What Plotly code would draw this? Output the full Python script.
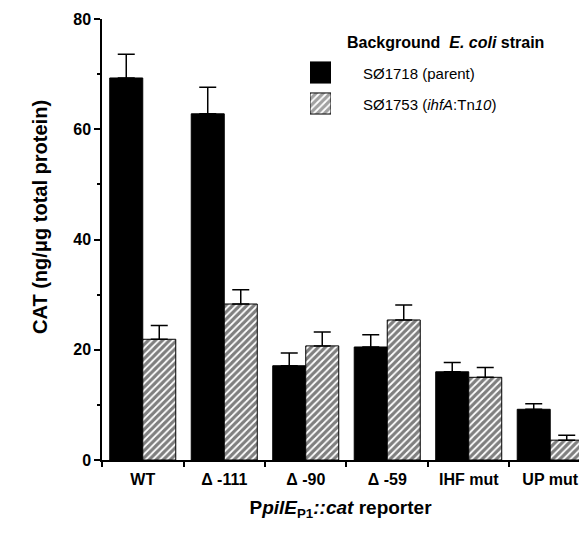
import plotly.graph_objects as go

categories = ["WT", "\u0394 -111", "\u0394 -90", "\u0394 -59", "IHF mut", "UP mut"]
parent_vals = [69.3, 62.8, 17.1, 20.5, 16.0, 9.2]
parent_err = [4.3, 4.8, 2.3, 2.2, 1.7, 1.0]
ihfa_vals = [21.9, 28.3, 20.7, 25.4, 15.0, 3.6]
ihfa_err = [2.5, 2.6, 2.5, 2.7, 1.8, 0.9]
legend_names = ["S\u00d81718 (parent)", "S\u00d81753 (<i>ihfA</i>:Tn<i>10</i>)"]
yticks = [0, 20, 40, 60, 80]

FONT = "Liberation Sans, Arial, Helvetica, sans-serif"
W, H = 579, 538
L, R, T, B = 102, 0, 19, 78
PW, PH = W - L - R, H - T - B

def px(x):
    return (x - L) / PW

def py(y):
    return (H - B - y) / PH

pattern = dict(shape="/", fgcolor="black", bgcolor="white", size=5, solidity=0.65)

fig = go.Figure()
fig.add_trace(go.Bar(
    x=categories, y=parent_vals, name=legend_names[0],
    marker=dict(color="black", line=dict(color="black", width=1)),
    error_y=dict(type="data", array=parent_err, arrayminus=[0] * len(parent_err),
                 symmetric=False, color="black", thickness=1.5, width=8.5),
    showlegend=False,
))
fig.add_trace(go.Bar(
    x=categories, y=ihfa_vals, name=legend_names[1],
    marker=dict(color="white", pattern=pattern, line=dict(color="black", width=1)),
    error_y=dict(type="data", array=ihfa_err, arrayminus=[0] * len(ihfa_err),
                 symmetric=False, color="black", thickness=1.5, width=8.5),
    showlegend=False,
))

# legend swatches drawn as bars on a small inset axis
fig.add_trace(go.Bar(
    x=[1, 1], y=[legend_names[1], legend_names[0]], orientation="h",
    xaxis="x2", yaxis="y2", showlegend=False, hoverinfo="skip", width=[0.68, 0.68],
    marker=dict(color=["white", "black"],
                pattern=dict(shape=["/", ""], fgcolor="black", bgcolor="white",
                             size=5, solidity=0.65),
                line=dict(color="black", width=1)),
))

fig.update_layout(
    width=W, height=H,
    margin=dict(l=L, r=R, t=T, b=B),
    paper_bgcolor="white", plot_bgcolor="white",
    font=dict(family=FONT, color="black"),
    barmode="group", bargap=0.19, bargroupgap=0.0,
    xaxis=dict(
        range=[-0.5, 5.353], showline=True, linecolor="black", linewidth=1.5,
        ticks="outside", tickson="boundaries", ticklen=5, tickcolor="black", tickwidth=1.5,
        tickfont=dict(size=16, weight="bold"), ticklabelstandoff=4,
        showgrid=False, zeroline=False,
        title=dict(text="<b>P<i>pilE</i><sub>P1</sub><i>::cat</i> reporter</b>",
                   font=dict(size=19), standoff=14),
    ),
    yaxis=dict(
        range=[0, 80], tickvals=yticks, showline=True, linecolor="black", linewidth=1.5,
        ticks="outside", ticklen=6, tickcolor="black", tickwidth=1.5,
        tickfont=dict(size=16, weight="bold"),
        minor=dict(ticks="outside", ticklen=3, dtick=10, tickcolor="black", tickwidth=1.5),
        showgrid=False, zeroline=False,
    ),
    xaxis2=dict(domain=[px(310), px(331)], range=[0, 1], autorange=False,
                visible=False, anchor="y2"),
    yaxis2=dict(domain=[py(119), py(57)], visible=False, anchor="x2", type="category",
                categoryorder="array", categoryarray=[legend_names[1], legend_names[0]]),
)

fig.add_annotation(text="<b>CAT (ng/\u03bcg total protein)</b>", textangle=-90,
                   xref="paper", yref="paper", x=px(40), y=py(217),
                   xanchor="center", yanchor="middle", showarrow=False,
                   font=dict(size=20))
fig.add_annotation(text="<b>Background\u00a0\u00a0<i>E. coli</i> strain</b>",
                   xref="paper", yref="paper", x=px(345), y=py(43),
                   xanchor="left", yanchor="middle", showarrow=False,
                   font=dict(size=16))
fig.add_annotation(text=legend_names[0], xref="paper", yref="paper",
                   x=px(361), y=py(73), xanchor="left", yanchor="middle",
                   showarrow=False, font=dict(size=15))
fig.add_annotation(text=legend_names[1], xref="paper", yref="paper",
                   x=px(361), y=py(104), xanchor="left", yanchor="middle",
                   showarrow=False, font=dict(size=15))

fig.write_html("out.html", config={"displayModeBar": False},
               post_script="document.body.style.margin='0';document.body.style.overflow='hidden';")
